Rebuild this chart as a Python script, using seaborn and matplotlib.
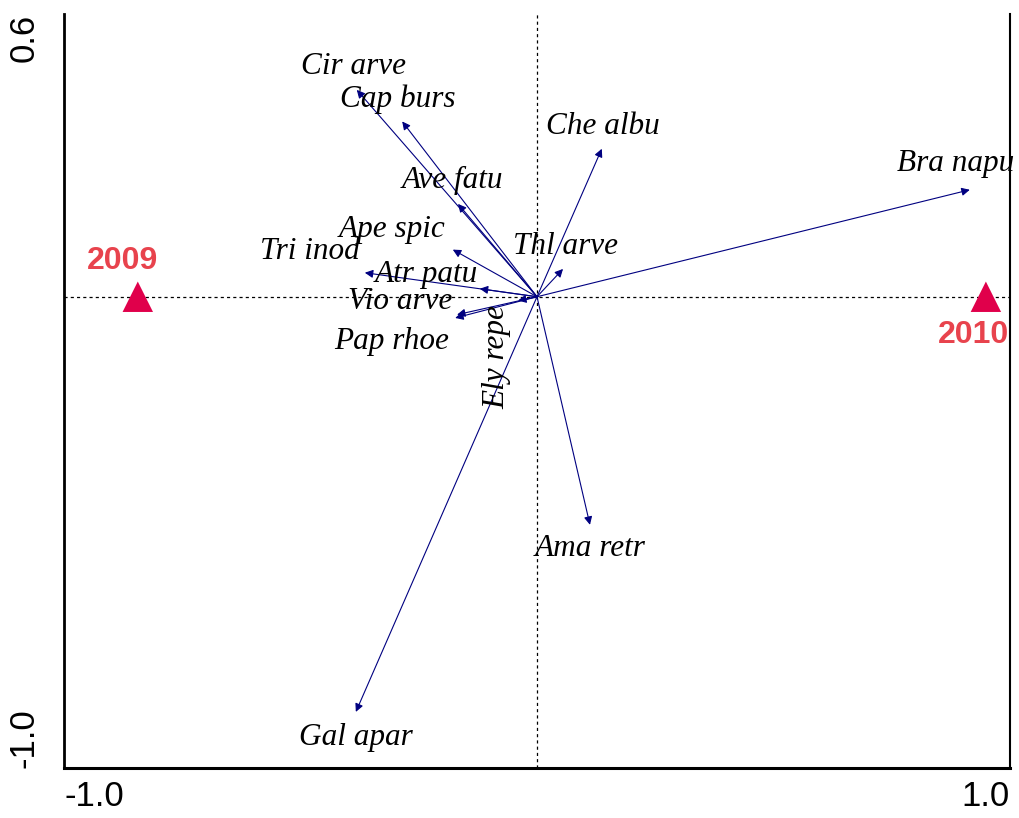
import numpy as np
import pandas as pd
import seaborn as sns
import matplotlib.pyplot as plt

# species scores (arrow tips) on axis 1 / axis 2
species = ["Cir arve", "Cap burs", "Ave fatu", "Che albu", "Bra napu", "Thl arve",
           "Ape spic", "Tri inod", "Atr patu", "Vio arve", "Pap rhoe", "Ely repe",
           "Ama retr", "Gal apar"]
ax1 = [-0.381, -0.285, -0.167, 0.137, 0.915, 0.055,
       -0.178, -0.364, -0.121, -0.169, -0.173, -0.040,
       0.112, -0.383]
ax2 = [0.439, 0.372, 0.197, 0.314, 0.227, 0.059,
       0.100, 0.051, 0.017, -0.038, -0.045, -0.008,
       -0.484, -0.881]

# sample (year) centroids
years = ["2009", "2010"]
year_x = [-0.844, 0.949]
year_y = [0.0, 0.0]

# where each species label sits (data coords)
label_pos = {
    "Cir arve": (-0.389, 0.488), "Cap burs": (-0.294, 0.420), "Che albu": (0.140, 0.361),
    "Bra napu": (0.886, 0.282), "Ave fatu": (-0.178, 0.246), "Ape spic": (-0.307, 0.142),
    "Thl arve": (0.061, 0.106), "Tri inod": (-0.480, 0.096), "Atr patu": (-0.235, 0.047),
    "Vio arve": (-0.290, -0.011), "Pap rhoe": (-0.307, -0.096), "Ely repe": (-0.085, -0.127),
    "Ama retr": (0.112, -0.535), "Gal apar": (-0.383, -0.935),
}
year_label_pos = {"2009": (-0.877, 0.075), "2010": (0.922, -0.082)}

sns.set_style("white")
plt.rcParams["font.family"] = ["Liberation Sans", "DejaVu Sans"]

fig = plt.figure(figsize=(10.19, 8.18), dpi=100)
ax = fig.add_axes([64 / 1019, 1 - 768 / 818, (1010 - 64) / 1019, (768 - 14) / 818])

ax.set_xlim(-1.0, 1.0)
ax.set_ylim(-1.0, 0.6)

# dotted zero lines
ax.axhline(0, color="black", lw=0.9, ls=(0, (2.5, 2.5)), zorder=1)
ax.axvline(0, color="black", lw=0.9, ls=(0, (2.5, 2.5)), zorder=1)

df = pd.DataFrame({"species": species, "x": ax1, "y": ax2})
for _, r in df.iterrows():
    ax.annotate("", xy=(r.x, r.y), xytext=(0, 0),
                arrowprops=dict(arrowstyle="-|>", color="#000080", lw=0.8,
                                mutation_scale=12, shrinkA=0, shrinkB=0),
                zorder=3)
    lx, ly = label_pos[r.species]
    rot = 90 if r.species == "Ely repe" else 0
    ax.text(lx, ly, r.species, family=["Liberation Serif", "DejaVu Serif"], style="italic",
            fontsize=22.5, ha="center", va="center", rotation=rot, color="black", zorder=4)

ydf = pd.DataFrame({"year": years, "x": year_x, "y": year_y})
sns.scatterplot(data=ydf, x="x", y="y", marker="^", s=480, color="#e0004b",
                edgecolor="none", ax=ax, zorder=5, legend=False)
for yr in years:
    lx, ly = year_label_pos[yr]
    ax.text(lx, ly, yr, fontsize=23, fontweight="bold", color="#e8434d",
            ha="center", va="center", zorder=6)

# axes styling
ax.set_xlabel("")
ax.set_ylabel("")
ax.spines["top"].set_visible(False)
for s in ["left", "bottom", "right"]:
    ax.spines[s].set_color("black")
ax.spines["left"].set_linewidth(2)
ax.spines["bottom"].set_linewidth(2.2)
ax.spines["right"].set_linewidth(1.5)

xt = [-1.0, -0.5, 0.0, 0.5, 1.0]
yt = [-1.0, -0.8, -0.6, -0.4, -0.2, 0.0, 0.2, 0.4, 0.6]
ax.set_xticks(xt)
ax.set_xticklabels(["-1.0", "", "", "", "1.0"], fontsize=25)
ax.set_yticks(yt)
ax.set_yticklabels(["-1.0"] + [""] * 7 + ["0.6"], fontsize=25, rotation=90)
ax.tick_params(axis="x", direction="inout", length=10, width=1.2, pad=4,
               color="black", labelcolor="black")
ax.tick_params(axis="y", direction="out", length=7, width=1.2, pad=10,
               color="black", labelcolor="black")
xl = ax.get_xticklabels()
xl[0].set_ha("left")
xl[-1].set_ha("right")
yl = ax.get_yticklabels()
yl[0].set_va("bottom")
yl[-1].set_va("top")

fig.savefig("out.png", dpi=100)
